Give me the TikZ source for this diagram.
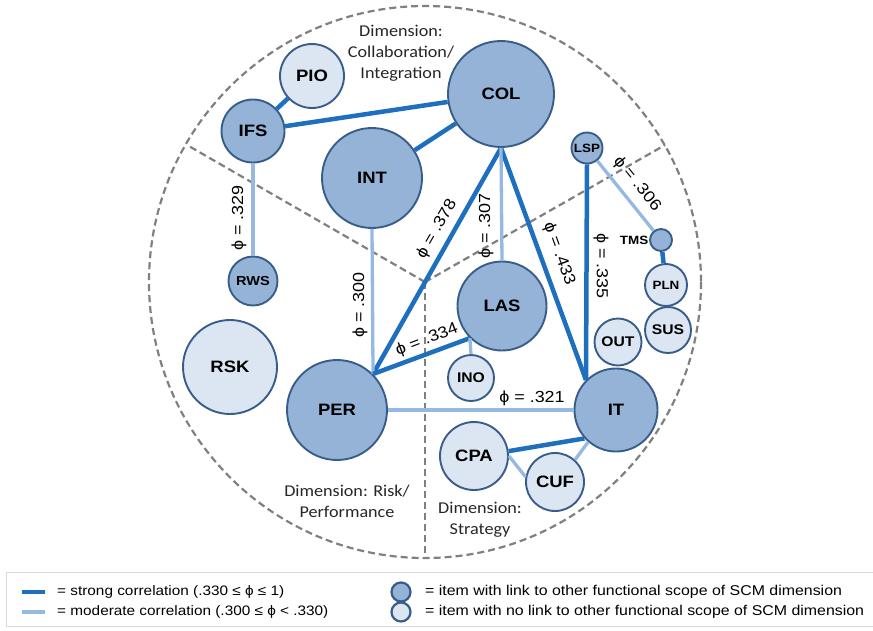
\documentclass[tikz,border=0pt]{standalone}
\usepackage{fontspec}
\setmainfont{Liberation Sans}[FakeStretch=1.12]
\newfontfamily\dimfont{Carlito}[FakeStretch=1.1]

\definecolor{strongcol}{RGB}{30,112,190}
\definecolor{modcol}{RGB}{150,185,226}
\definecolor{linkfill}{RGB}{149,179,215}
\definecolor{nolinkfill}{RGB}{220,230,242}
\definecolor{rimcol}{RGB}{56,93,138}
\definecolor{sectorcol}{RGB}{128,128,128}
\definecolor{dimtext}{RGB}{38,38,38}
\definecolor{framecol}{RGB}{217,217,217}

\tikzset{
  item/.style={circle, draw=rimcol, line width=1.9pt, inner sep=0pt, text=black,
               font=\bfseries\fontsize{16.5}{18}\selectfont},
  linked/.style={item, fill=linkfill},
  unlinked/.style={item, fill=nolinkfill},
  midlabel/.style={font=\bfseries\fontsize{14}{16}\selectfont},
  smalllabel/.style={font=\bfseries\fontsize{12}{14}\selectfont},
  strongedge/.style={draw=strongcol, line width=4.5pt},
  modedge/.style={draw=modcol, line width=3.3pt},
  sector/.style={draw=sectorcol, line width=2.2pt, dash pattern=on 7pt off 4pt},
  philabel/.style={font=\fontsize{16}{18}\selectfont, inner sep=1pt},
  dimlabel/.style={font=\dimfont\fontsize{16.5}{21}\selectfont, text=dimtext, align=center},
  legendtext/.style={font=\fontsize{13.7}{15}\selectfont, anchor=west, inner sep=0pt}
}

\begin{document}
\begin{tikzpicture}[x=1pt, y=-1pt]
\useasboundingbox (0,0) rectangle (873,630);

% outer boundary and the three sector dividers
\coordinate (hub) at (425,282);
\draw[sector] (hub) circle[radius=276];
\coordinate (divL) at (187,145);
\coordinate (divR) at (665,145);
\coordinate (divB) at (425,558);
\draw[sector] (hub) -- (divL);
\draw[sector] (hub) -- (divR);
\draw[sector] (hub) -- (divB);

% items
\node[linked,   minimum size=106pt] (COL) at (501,94)  {COL};
\node[unlinked, minimum size=64pt]  (PIO) at (312,76)  {PIO};
\node[linked,   minimum size=63pt]  (IFS) at (253,131) {IFS};
\node[linked,   minimum size=100pt] (INT) at (372,178) {INT};
\node[linked,   minimum size=49pt, font=\bfseries\fontsize{13}{15}\selectfont] (RWS) at (253,281) {RWS};
\node[unlinked, minimum size=94pt]  (RSK) at (230,367) {RSK};
\node[linked,   minimum size=100pt] (PER) at (337,410) {PER};
\node[linked,   minimum size=89pt]  (LAS) at (502,306) {LAS};
\node[unlinked, minimum size=46pt, midlabel] (INO) at (471,378) {INO};
\node[linked,   minimum size=83pt]  (IT)  at (616,410) {IT};
\node[unlinked, minimum size=68pt]  (CPA) at (474,456) {CPA};
\node[unlinked, minimum size=58pt]  (CUF) at (555,482) {CUF};
\node[linked,   minimum size=31pt, smalllabel] (LSP) at (587,148) {LSP};
\node[linked,   minimum size=22pt]  (TMS) at (661,240) {};
\node[unlinked, minimum size=42pt, smalllabel] (PLN) at (666,285) {PLN};
\node[unlinked, minimum size=46pt, midlabel] (SUS) at (668,330) {SUS};
\node[unlinked, minimum size=47pt, midlabel] (OUT) at (618,342) {OUT};
\node[font=\bfseries\fontsize{12}{13}\selectfont, anchor=east, inner sep=0.5pt] (TMSname) at (TMS.west) {TMS};

% correlations
\draw[strongedge] (PIO) -- (IFS);
\draw[strongedge] (IFS) -- (COL);
\draw[strongedge] (INT) -- (COL);
\draw[strongedge] (COL.south) -- (PER.45);
\draw[strongedge] (COL.south) -- (IT.135);
\draw[modedge]    (COL.south) -- (LAS.north);
\draw[modedge]    (IFS) -- (RWS);
\draw[modedge]    (INT.south) -- (PER.45);
\draw[strongedge] (PER.45) -- (LAS.225);
\draw[modedge]    (INO.north) -- (LAS.225);
\draw[modedge]    (PER) -- (IT);
\draw[strongedge] (LSP.south) -- (IT.135);
\draw[modedge]    (LSP) -- (TMS);
\draw[strongedge] (TMS) -- (PLN);
\draw[strongedge] (CPA.8) -- (IT.222);
\draw[modedge]    (CPA.east) -- (CUF.170);
\draw[modedge]    (CUF.48) -- (IT.229);

% coefficients
\node[philabel, rotate=90]  (p329) at (239,218) {ϕ = .329};
\node[philabel, rotate=90]  (p300) at (360,305) {ϕ = .300};
\node[philabel, rotate=60]  (p378) at (437,229) {ϕ = .378};
\node[philabel, rotate=90]  (p307) at (486,226) {ϕ = .307};
\node[philabel, rotate=-70] (p433) at (559,254) {ϕ = .433};
\node[philabel, rotate=-90] (p335) at (601,266) {ϕ = .335};
\node[philabel, rotate=-51] (p306) at (637,184) {ϕ = .306};
\node[philabel, rotate=21]  (p334) at (427,340) {ϕ = .334};
\node[philabel]             (p321) at (532,398) {ϕ = .321};

% sector names
\node[dimlabel] (dimCI) at (401,53)  {Dimension:\\Collaboration/\\Integration};
\node[dimlabel] (dimRP) at (347,501) {Dimension: Risk/\\Performance};
\node[dimlabel] (dimST) at (480,520) {Dimension:\\Strategy};

% legend
\draw[framecol, line width=1pt] (6,572) -- (880,572) (6,572) -- (6,626) -- (880,626);
\coordinate (ls1) at (22,592); \coordinate (le1) at (45,592);
\coordinate (ls2) at (22,612); \coordinate (le2) at (45,612);
\draw[draw=strongcol, line width=4pt] (ls1) -- (le1);
\draw[draw=modcol, line width=4pt] (ls2) -- (le2);
\node[legendtext] (lt1) at (57,592) {= strong correlation (.330 ≤ ϕ ≤ 1)};
\node[legendtext] (lt2) at (57,612) {= moderate correlation (.300 ≤ ϕ < .330)};
\node[circle, draw=rimcol, line width=2.2pt, fill=linkfill, minimum size=19pt, inner sep=0pt] (lc1) at (401,592) {};
\node[circle, draw=rimcol, line width=2.2pt, fill=nolinkfill, minimum size=19pt, inner sep=0pt] (lc2) at (401,612) {};
\node[legendtext, font=\fontsize{14.2}{15}\selectfont] (lt3) at (425,592) {= item with link to other functional scope of SCM dimension};
\node[legendtext, font=\fontsize{14.2}{15}\selectfont] (lt4) at (425,612) {= item with no link to other functional scope of SCM dimension};
\end{tikzpicture}
\end{document}
